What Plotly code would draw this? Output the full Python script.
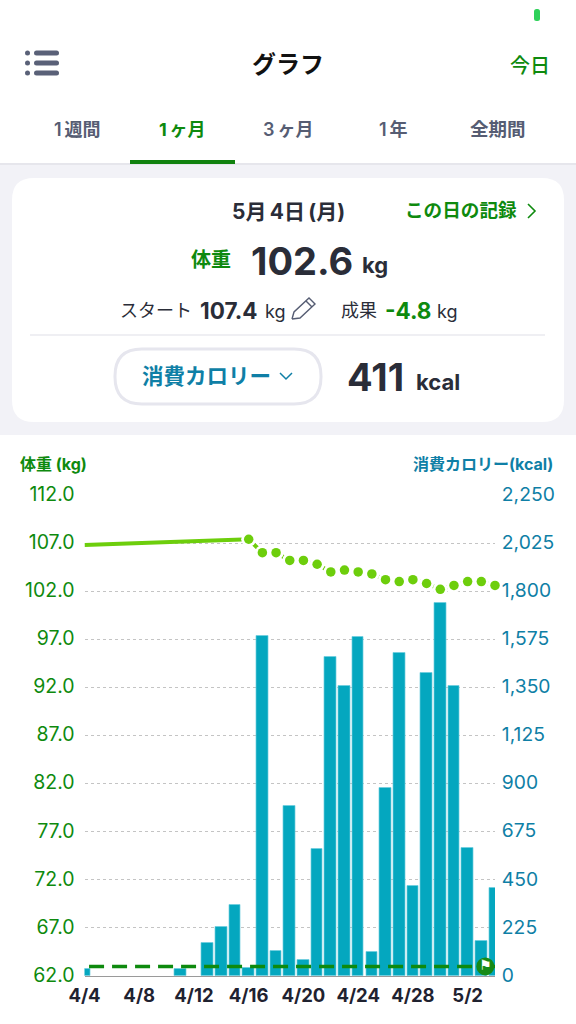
import plotly.graph_objects as go

# ---- data ----
dates = ["2020-04-%02d" % d for d in range(4, 31)] + ["2020-05-%02d" % d for d in range(1, 5)]
kcal = [33, None, None, None, None, None, None, 33, None, 154, 230, 332, 37, 1590, 117, 795, 75, 594, 1492, 1357,
        1586, 112, 880, 1511, 421, 1417, 1745, 1357, 599, 164, 411]
weight = [106.8, None, None, None, None, None, None, None, None, None, None, None, 107.4,
          106.0, 106.0, 105.2, 105.2, 104.8, 104.0, 104.2, 104.0, 103.8, 103.2, 103.0, 103.2,
          102.8, 102.2, 102.6, 103.0, 103.0, 102.6]
goal_dates = ["2020-04-04 08:00", "2020-05-04"]
goal_values = [63.0, 63.0]
flag_dates = ["2020-05-03 07:00"]
flag_values = [63.0]
dot_dates = dates[12:]
dot_values = weight[12:]
kg_ticks = [112, 107, 102, 97, 92, 87, 82, 77, 72, 67, 62]
kg_labels = ["112.0", "107.0", "102.0", "97.0", "92.0", "87.0", "82.0", "77.0", "72.0", "67.0", "62.0"]
kcal_ticks = [2250, 2025, 1800, 1575, 1350, 1125, 900, 675, 450, 225, 0]
kcal_labels = ["2,250", "2,025", "1,800", "1,575", "1,350", "1,125", "900", "675", "450", "225", "0"]
date_ticks = ["2020-04-04", "2020-04-08", "2020-04-12", "2020-04-16", "2020-04-20", "2020-04-24", "2020-04-28", "2020-05-02"]
date_labels = ["4/4", "4/8", "4/12", "4/16", "4/20", "4/24", "4/28", "5/2"]

# ---- style ----
W, H = 576, 1024
FONT = "Inter, 'Noto Sans CJK JP', sans-serif"
GREEN = "#0E8A0E"
TEAL = "#0F7FA6"
DARK = "#2A2D38"
GRAY = "#565D73"
LIME = "#6DCE0C"
BAR = "#04A7BF"

def px(x): return x / W
def py(y): return 1 - y / H

annotations = []
def T(x, y, text, size, color=DARK, anchor="center", weight=400):
    annotations.append(dict(x=px(x), y=py(y), xref="paper", yref="paper", text=text, showarrow=False,
                            xanchor=anchor, yanchor="middle", borderpad=0,
                            font=dict(family=FONT, size=size, color=color, weight=weight)))

shapes = []
def rrect(x0, y0, x1, y1, r, fill=None, line=None, lw=0):
    d = (f"M{px(x0+r)},{py(y0)} L{px(x1-r)},{py(y0)} Q{px(x1)},{py(y0)} {px(x1)},{py(y0+r)} "
         f"L{px(x1)},{py(y1-r)} Q{px(x1)},{py(y1)} {px(x1-r)},{py(y1)} "
         f"L{px(x0+r)},{py(y1)} Q{px(x0)},{py(y1)} {px(x0)},{py(y1-r)} "
         f"L{px(x0)},{py(y0+r)} Q{px(x0)},{py(y0)} {px(x0+r)},{py(y0)} Z")
    shapes.append(dict(type="path", path=d, xref="paper", yref="paper", layer="below",
                       fillcolor=fill or "rgba(0,0,0,0)", line=dict(color=line or "rgba(0,0,0,0)", width=lw)))

def poly(points, color, lw=1.5):
    d = "M" + " L".join(f"{px(a)},{py(b)}" for a, b in points)
    shapes.append(dict(type="path", path=d, xref="paper", yref="paper", layer="above",
                       line=dict(color=color, width=lw)))

# page furniture
rrect(0, 165, W, 435, 0, fill="#F2F2F7")
rrect(12, 178, 564, 422, 22, fill="#FFFFFF")
rrect(0, 163, W, 165, 0, fill="#E6E6EC")
rrect(130, 160, 235, 164, 0, fill="#11820F")
rrect(534, 9, 540, 21, 2.5, fill="#2FD15A")
for yy in (53, 63, 73):
    rrect(25, yy - 2.5, 30, yy + 2.5, 2.5, fill="#5A6178")
    rrect(34, yy - 2.5, 59, yy + 2.5, 2.5, fill="#5A6178")
rrect(30, 334.5, 545, 335.5, 0, fill="#E0E0E8")
rrect(115, 349, 321, 404, 27, fill="#FFFFFF", line="#E6E6EE", lw=3)

T(288, 64, "グラフ", 24, "#111111", weight=700)
T(530, 66, "今日", 20, GREEN, weight=500)
T(77, 129, "1\u2009週間", 18, GRAY, weight=600)
T(182, 129, "1\u2009ヶ月", 18, GREEN, weight=700)
T(288, 129, "3\u2009ヶ月", 18, GRAY, weight=600)
T(393, 129, "1\u2009年", 18, GRAY, weight=600)
T(498, 129, "全期間", 18.5, GRAY, weight=600)

T(288, 211, "5月\u20094日\u2009(月)", 21, DARK, weight=700)
T(518, 210, "この日の記録", 18.6, GREEN, anchor="right", weight=700)
poly([(528, 204), (535, 211), (528, 218)], GREEN, 1.6)

T(232, 260, "体重", 20, GREEN, anchor="right", weight=700)
T(250, 261, "102.6", 38, DARK, anchor="left", weight=700)
T(361, 265, "kg", 22, DARK, anchor="left", weight=700)

T(119, 310, "スタート", 18, DARK, anchor="left")
T(199, 310, "107.4", 22.5, DARK, anchor="left", weight=700)
T(264, 311, "kg", 18, DARK, anchor="left")
poly([(292, 319), (294, 312), (309, 298), (315, 304), (300, 318), (292, 319)], GRAY, 1.4)
poly([(306, 301), (312, 307)], GRAY, 1.4)
T(340, 310, "成果", 18, DARK, anchor="left")
T(384, 310, "-4.8", 22.5, GREEN, anchor="left", weight=700)
T(436, 311, "kg", 18, DARK, anchor="left")

T(141, 376, "消費カロリー", 21.5, TEAL, anchor="left", weight=600)
poly([(280, 373), (286, 379), (292, 373)], TEAL, 1.5)
T(346, 377, "411", 38, DARK, anchor="left", weight=700)
T(415, 382, "kcal", 22, DARK, anchor="left", weight=700)

T(19, 464, "体重 (kg)", 16, GREEN, anchor="left", weight=700)
T(554, 464, "消費カロリー(kcal)", 16, TEAL, anchor="right", weight=700)

fig = go.Figure()
fig.add_trace(go.Bar(x=dates, y=kcal, yaxis="y", width=0.85 * 86400000,
                     marker=dict(color=BAR, line=dict(color="rgba(110,205,222,0.7)", width=1))))
fig.add_trace(go.Scatter(x=dates, y=weight, yaxis="y2", mode="lines", connectgaps=True,
                         line=dict(color=LIME, width=4)))
fig.add_trace(go.Scatter(x=dot_dates, y=dot_values, yaxis="y2", mode="markers", cliponaxis=False,
                         marker=dict(color="#FFFFFF", size=15)))
fig.add_trace(go.Scatter(x=dot_dates, y=dot_values, yaxis="y2", mode="markers", cliponaxis=False,
                         marker=dict(color=LIME, size=9.5)))
fig.add_trace(go.Scatter(x=goal_dates, y=goal_values, yaxis="y2", mode="lines", cliponaxis=False,
                         line=dict(color="#0E8A0E", width=3.5, dash="15px,8px")))
fig.add_trace(go.Scatter(x=flag_dates, y=flag_values, yaxis="y2", mode="markers+text", cliponaxis=False,
                         text=["⚑"], textposition="middle center",
                         textfont=dict(family="DejaVu Sans", size=14, color="#FFFFFF"),
                         marker=dict(color="#168A16", size=18)))

fig.update_layout(
    width=W, height=H, margin=dict(l=0, r=0, t=0, b=0, autoexpand=False), autosize=False,
    paper_bgcolor="#FFFFFF", plot_bgcolor="rgba(0,0,0,0)", showlegend=False, hovermode=False,
    bargap=0, annotations=annotations, shapes=shapes,
    font=dict(family=FONT),
    xaxis=dict(type="date", domain=[px(84.5), px(495)], range=["2020-04-04", "2020-05-04"],
               tickmode="array", tickvals=date_ticks, ticktext=date_labels, tickangle=0,
               tickfont=dict(family=FONT, size=18.5, color="#1F2230", weight=700),
               showgrid=False, showline=True, linecolor="#9A9A9A", linewidth=1, zeroline=False,
               ticks="outside", ticklen=3, tickcolor="rgba(0,0,0,0)", anchor="y"),
    yaxis=dict(domain=[py(976), py(495)], range=[0, 2250], side="right", anchor="x",
               tickmode="array", tickvals=kcal_ticks, ticktext=kcal_labels,
               tickfont=dict(family=FONT, size=19.3, color=TEAL), ticklabelshift=-1,
               showgrid=True, gridcolor="#C4C4C4", griddash="dot", gridwidth=1, zeroline=False,
               ticks="outside", ticklen=2, tickcolor="rgba(0,0,0,0)"),
    yaxis2=dict(range=[62, 112], side="left", overlaying="y", anchor="x",
                tickmode="array", tickvals=kg_ticks, ticktext=kg_labels,
                tickfont=dict(family=FONT, size=19.5, color=GREEN), ticklabelshift=-1,
                showgrid=False, zeroline=False,
                ticks="outside", ticklen=5, tickcolor="rgba(0,0,0,0)"),
)

fig.write_html("out.html", config=dict(displayModeBar=False),
               post_script="document.body.style.margin='0';document.documentElement.style.overflow='hidden';")
